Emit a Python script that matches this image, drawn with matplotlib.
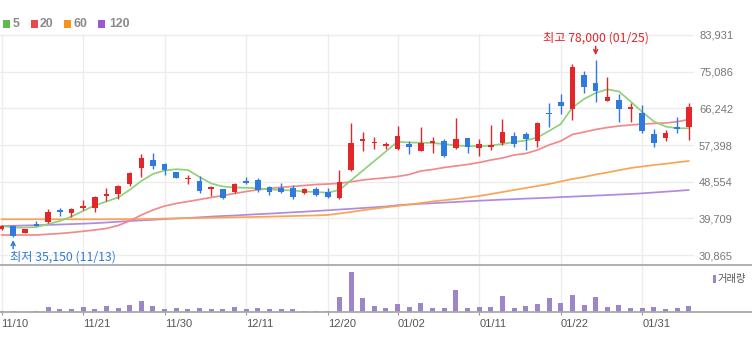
import matplotlib
matplotlib.use("Agg")
import matplotlib.pyplot as plt
from matplotlib.lines import Line2D
from matplotlib.patches import Rectangle

# ---- daily price data -------------------------------------------------------
dates = ["11/10", "11/13", "11/14", "11/15", "11/16", "11/17", "11/20", "11/21",
         "11/22", "11/23", "11/24", "11/27", "11/28", "11/29", "11/30", "12/01",
         "12/04", "12/05", "12/06", "12/07", "12/08", "12/11", "12/12", "12/13",
         "12/14", "12/15", "12/18", "12/19", "12/20", "12/21", "12/22", "12/26",
         "12/27", "12/28", "01/02", "01/03", "01/04", "01/05", "01/08", "01/09",
         "01/10", "01/11", "01/12", "01/15", "01/16", "01/17", "01/18", "01/19",
         "01/22", "01/23", "01/24", "01/25", "01/26", "01/29", "01/30", "01/31",
         "02/01", "02/02", "02/05", "02/06"]

opens = [37100, 37900, 36150, 38250, 38750, 41700, 41050, 42300, 42300, 45200,
         45550, 47950, 51900, 53800, 52800, 50800, 49100, 48800, 46900, 46800,
         46100, 48750, 48950, 47300, 47100, 46950, 45750, 46700, 46150, 44550,
         51350, 58450, 57800, 57250, 56350, 57550, 56050, 57900, 58300, 56600,
         59000, 56600, 56800, 57950, 59550, 60050, 58450, 65200, 67850, 66000,
         74300, 72450, 68100, 68200, 66100, 65200, 60050, 59200, 61750, 61750]
highs = [38000, 38000, 37250, 39050, 41850, 42100, 42200, 44200, 45100, 47100,
         47750, 51000, 55300, 55400, 53150, 50950, 50150, 49900, 47400, 46850,
         48300, 49800, 49500, 47500, 48300, 47750, 46950, 47300, 46950, 51350,
         62650, 60600, 59350, 58200, 62000, 58350, 61650, 59400, 58750, 63850,
         59100, 58750, 62200, 63600, 60650, 60650, 62850, 67450, 69700, 76950,
         75300, 78000, 73900, 69600, 67600, 66950, 61200, 61000, 64100, 67600]
lows = [37000, 35150, 36100, 37850, 38500, 40300, 39950, 41700, 41300, 44000,
        44400, 47600, 49750, 51600, 50150, 49350, 47950, 45750, 45050, 44400,
        45850, 47900, 46150, 45300, 45750, 44400, 45600, 45000, 44550, 44300,
        51200, 56000, 56350, 56350, 56300, 55200, 56000, 55400, 54600, 56550,
        55400, 54700, 56200, 57400, 57000, 56200, 56900, 61750, 64950, 63450,
        70000, 67850, 68000, 62950, 63000, 60200, 56850, 58450, 60350, 58700]
closes = [37800, 35500, 37100, 38000, 41300, 41250, 41900, 42700, 44800, 45650,
          47400, 50600, 54200, 52300, 51450, 49500, 49500, 46350, 47300, 44550,
          47900, 48150, 46450, 45950, 46100, 44950, 46700, 45450, 44800, 48550,
          58000, 58750, 58200, 57550, 59550, 56900, 57800, 58350, 54700, 58750,
          56800, 57750, 57400, 60600, 57650, 58850, 62800, 64800, 66850, 76100,
          71400, 70500, 68900, 66000, 66550, 60700, 57800, 60350, 61250, 66450]

# trading volume (thousand shares)
volume = [60, 60, 20, 80, 280, 160, 160, 280, 160, 360,
          220, 420, 680, 360, 160, 220, 160, 220, 160, 160,
          280, 160, 220, 160, 160, 160, 80, 80, 80, 880,
          2380, 820, 360, 220, 480, 280, 560, 220, 220, 1320,
          220, 280, 280, 960, 220, 360, 480, 820, 560, 1020,
          420, 880, 280, 420, 220, 220, 280, 160, 220, 360]

# moving averages (5 / 20 / 60 / 120 days); None where the 5-day value is absent
ma5 = [37860, 37500, 37450, 37620, 38340, 39070, 40150, 41480, 42810, 43770,
       44740, 46550, 48720, 50400, 51250, 51560, 51370, 49680, 48110, 47390,
       47150, 47080, 46960, 46670, 46550, 46430, 46180, 46060, 45890, 46550,
       None, None, None, None, 58200, 58000, 57950, 57880, 57640, 57280,
       57160, 57090, 57280, 57640, 58120, 58490, 59210, 60780, 62460, 66440,
       68490, 69940, 70830, 70300, 67890, 65360, 63070, 61860, 61430, 61430]
ma20 = [35690, 35690, 35690, 35690, 35880, 36050, 36290, 36580, 36900, 37260,
        37980, 39070, 40520, 41720, 42690, 43290, 43770, 44260, 44740, 45220,
        45700, 46180, 46590, 46910, 47200, 47390, 47630, 47870, 47990, 48160,
        48520, 48960, 49250, 49490, 49800, 50280, 51130, 51490, 51970, 52340,
        52700, 53180, 53780, 54260, 54990, 55350, 56190, 57400, 58360, 59930,
        60530, 61140, 61620, 61980, 62220, 62460, 62590, 62710, 63020, 63550]
ma60 = [39480, 39480, 39480, 39480, 39480, 39480, 39480, 39480, 39480, 39480,
        39500, 39530, 39550, 39580, 39650, 39700, 39740, 39790, 39840, 39910,
        39960, 40010, 40060, 40130, 40200, 40270, 40350, 40420, 40520, 40880,
        41240, 41670, 42030, 42370, 42690, 43050, 43410, 43800, 44080, 44370,
        44740, 45100, 45580, 46060, 46550, 47030, 47510, 47990, 48600, 49200,
        49680, 50280, 50770, 51320, 51850, 52210, 52580, 52870, 53230, 53540]
ma120 = [37860, 37910, 37980, 38060, 38130, 38220, 38320, 38420, 38540, 38710,
         38880, 39070, 39210, 39360, 39530, 39670, 39790, 39960, 40130, 40270,
         40390, 40560, 40710, 40850, 41000, 41170, 41310, 41480, 41650, 41840,
         42010, 42200, 42370, 42570, 42880, 43050, 43220, 43360, 43510, 43650,
         43820, 43970, 44090, 44230, 44330, 44470, 44570, 44690, 44830, 44950,
         45070, 45200, 45320, 45460, 45580, 45750, 45940, 46140, 46330, 46550]

price_ticks = [30865, 39709, 48554, 57398, 66242, 75086, 83931]
date_ticks = ["11/10", "11/21", "11/30", "12/11", "12/20",
              "01/02", "01/11", "01/22", "01/31"]
ma_labels = ["5", "20", "60", "120"]

# ---- styling ----------------------------------------------------------------
UP = "#e3262a"
DOWN = "#307ade"
VOL = "#9c85c9"
GRID = "#ececec"
MA_LINE = ["#8ed27c", "#f18a8a", "#f8a556", "#b08ae0"]
MA_KEY = ["#5dbb46", "#e84a4a", "#f7941d", "#9b59d0"]
KR = ["Noto Sans CJK KR", "DejaVu Sans"]
NUM = "Liberation Sans"

W, H = 752, 337
fig = plt.figure(figsize=(W / 100, H / 100), dpi=100)
fig.patch.set_facecolor("white")

plot_w = 694 / W
ax = fig.add_axes([0, 72 / H, plot_w, 231 / H])
axv = fig.add_axes([0, 25 / H, plot_w, 46 / H])

n = len(dates)
xs = list(range(n))
tick_pos = [i for i, d in enumerate(dates) if d in date_ticks]
xlim = (-0.13, 59.44)

# ---- price panel --------------------------------------------------------------
ax.set_xlim(*xlim)
ax.set_ylim(28455, 84172)
ax.set_yticks(price_ticks)
ax.set_yticklabels([f"{v:,}" for v in price_ticks])
ax.yaxis.tick_right()
ax.tick_params(axis="y", length=0, pad=3.6, labelsize=8, labelcolor="#777777")
for lbl in ax.get_yticklabels():
    lbl.set_family(NUM)
ax.set_xticks(tick_pos)
ax.tick_params(axis="x", length=0, labelbottom=False)
ax.grid(True, color=GRID, lw=1.0)
ax.set_axisbelow(True)
for s in ax.spines.values():
    s.set_visible(False)

for vals, col in zip([ma120, ma60, ma20], MA_LINE[::-1][:3]):
    ax.plot(xs, vals, color=col, lw=1.25, solid_capstyle="round", zorder=2)
ma5_x = [i for i, v in enumerate(ma5) if v is not None]
ma5_y = [v for v in ma5 if v is not None]
ax.plot(ma5_x, ma5_y, color=MA_LINE[0], lw=1.25, zorder=2)

min_body = 390
for i in range(n):
    o, h, l, c = opens[i], highs[i], lows[i], closes[i]
    col = UP if c >= o else DOWN
    ax.vlines(i, l, h, color=col, lw=1.0, zorder=3)
    lo, hi = min(o, c), max(o, c)
    if hi - lo < min_body:
        mid = (hi + lo) / 2
        lo, hi = mid - min_body / 2, mid + min_body / 2
    ax.bar(i, hi - lo, bottom=lo, width=0.48, color=col, lw=0, zorder=4)

# highest / lowest markers
i_hi = max(range(n), key=lambda k: highs[k])
i_lo = min(range(n), key=lambda k: lows[k])
ax.annotate("", xy=(i_hi, highs[i_hi]), xytext=(0, 9.5),
            textcoords="offset points",
            arrowprops=dict(arrowstyle="->", color=UP, lw=1.1,
                            shrinkA=0, shrinkB=3.2, mutation_scale=7))
ax.annotate(f"최고 {highs[i_hi]:,} ({dates[i_hi]})", xy=(i_hi, highs[i_hi]),
            xytext=(0, 15.5), textcoords="offset points", ha="center",
            va="center", color=UP, fontsize=8.8, family=KR)
ax.annotate("", xy=(i_lo, lows[i_lo]), xytext=(0, -8.2),
            textcoords="offset points",
            arrowprops=dict(arrowstyle="->", color=DOWN, lw=1.1,
                            shrinkA=0, shrinkB=2.0, mutation_scale=7))
ax.annotate(f"최저 {lows[i_lo]:,} ({dates[i_lo]})", xy=(i_lo, lows[i_lo]),
            xytext=(-2.3, -14.0), textcoords="offset points", ha="left",
            va="center", color=DOWN, fontsize=8.8, family=KR)

# ---- volume panel -------------------------------------------------------------
axv.set_xlim(*xlim)
axv.set_ylim(0, 2760)
axv.bar(xs, volume, width=0.43, color=VOL, lw=0, zorder=3)
axv.set_yticks([])
axv.set_xticks(tick_pos)
axv.set_xticklabels([dates[i] for i in tick_pos])
axv.tick_params(axis="x", length=1.8, width=0.8, color="#999999", pad=3.2,
                labelsize=8, labelcolor="#555555")
for lbl in axv.get_xticklabels():
    lbl.set_ha("left")
    lbl.set_family(NUM)
axv.grid(True, axis="x", color=GRID, lw=1.0)
axv.set_axisbelow(True)
for s in axv.spines.values():
    s.set_visible(False)

# panel separators across the full width
for y in (265, 312):
    fig.add_artist(Line2D([0, 1], [1 - y / H, 1 - y / H], transform=fig.transFigure,
                          color="#a9a9a9", lw=1.3))

# ---- legends ------------------------------------------------------------------
key_x = [2.7, 30.7, 64.3, 98.3]
text_x = [12.5, 40.0, 74.0, 109.0]
for kx, tx, col, lab in zip(key_x, text_x, MA_KEY, ma_labels):
    fig.add_artist(Rectangle((kx / W, 1 - 27.5 / H), 7 / W, 7 / H,
                             transform=fig.transFigure, color=col, lw=0))
    fig.text(tx / W, 1 - 24 / H, lab, ha="left", va="center", fontsize=8.8,
             fontweight="bold", color="#8a8a8a", family=NUM)

fig.add_artist(Rectangle((713 / W, 1 - 283 / H), 3 / W, 8 / H,
                         transform=fig.transFigure, color=VOL, lw=0))
fig.text(717.5 / W, 1 - 279 / H, "거래량", ha="left", va="center", fontsize=7.4,
         color="#555555", family=KR)

fig.savefig("out.png", dpi=100, facecolor="white")
